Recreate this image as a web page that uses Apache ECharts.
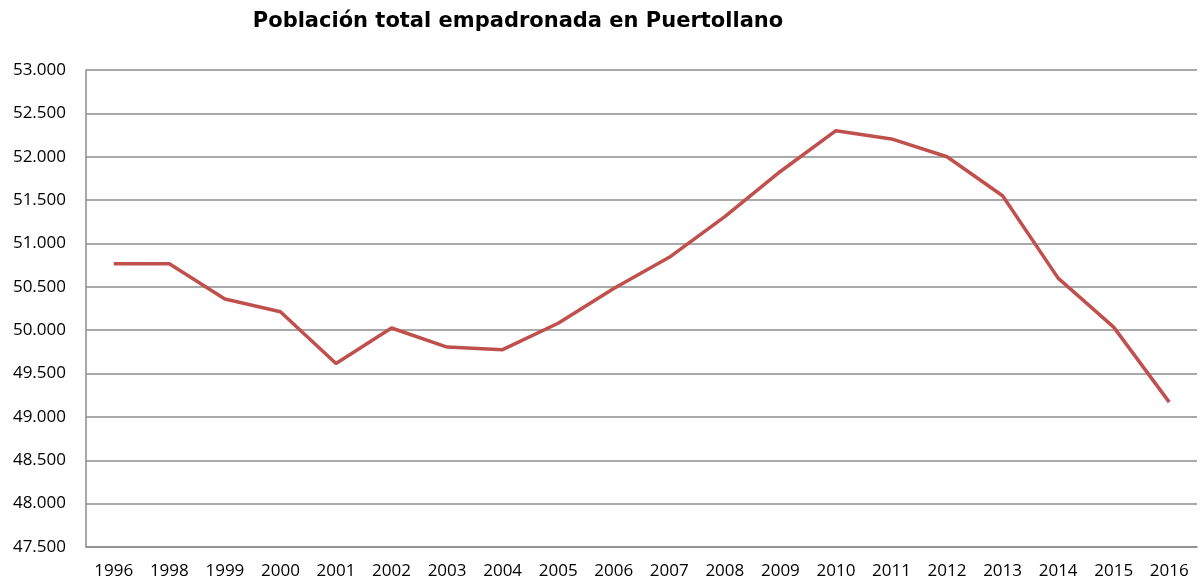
<!DOCTYPE html>
<html>
<head>
<meta charset="utf-8">
<script src="https://cdn.jsdelivr.net/npm/echarts@6/dist/echarts.min.js"></script>
<style>
html,body{margin:0;padding:0;background:#fff;}
#chart{width:1200px;height:583px;}
</style>
</head>
<body>
<div id="chart"></div>
<script>
const titleText = 'Población total empadronada en Puertollano';
const years = ['1996','1998','1999','2000','2001','2002','2003','2004','2005','2006','2007','2008','2009','2010','2011','2012','2013','2014','2015','2016'];
const population = [50765, 50765, 50360, 50213, 49615, 50025, 49805, 49775, 50080, 50480, 50840, 51310, 51830, 52300, 52205, 52000, 51550, 50600, 50035, 49170];
const yMin = 47500;
const yMax = 53000;
const yStep = 500;

function fmt(v){
  return String(v).replace(/\B(?=(\d{3})+(?!\d))/g, '.');
}

const chart = echarts.init(document.getElementById('chart'));
chart.setOption({
  animation: false,
  backgroundColor: '#ffffff',
  title: {
    text: titleText,
    left: 513,
    textAlign: 'center',
    top: 6,
    textStyle: {fontFamily: 'DejaVu Sans', fontWeight: 'bold', fontSize: 21, color: '#000'}
  },
  grid: {left: 86, right: 3, top: 70, bottom: 36},
  xAxis: {
    type: 'category',
    data: years,
    boundaryGap: true,
    axisLine: {show: true, lineStyle: {color: '#8c8c8c', width: 1.5}},
    axisTick: {show: false},
    axisLabel: {color: '#000', fontFamily: 'Open Sans', fontSize: 17, margin: 16, interval: 0}
  },
  yAxis: {
    type: 'value',
    min: yMin,
    max: yMax,
    interval: yStep,
    axisLine: {show: true, lineStyle: {color: '#8c8c8c', width: 1.5}},
    axisTick: {show: false},
    splitLine: {show: true, lineStyle: {color: '#8c8c8c', width: 1.5}},
    axisLabel: {color: '#000', fontFamily: 'Open Sans', fontSize: 17, margin: 20, formatter: fmt}
  },
  series: [{
    type: 'line',
    data: population,
    symbol: 'none',
    lineStyle: {color: '#c0504d', width: 3.5},
    itemStyle: {color: '#c0504d'}
  }]
});
</script>
</body>
</html>
